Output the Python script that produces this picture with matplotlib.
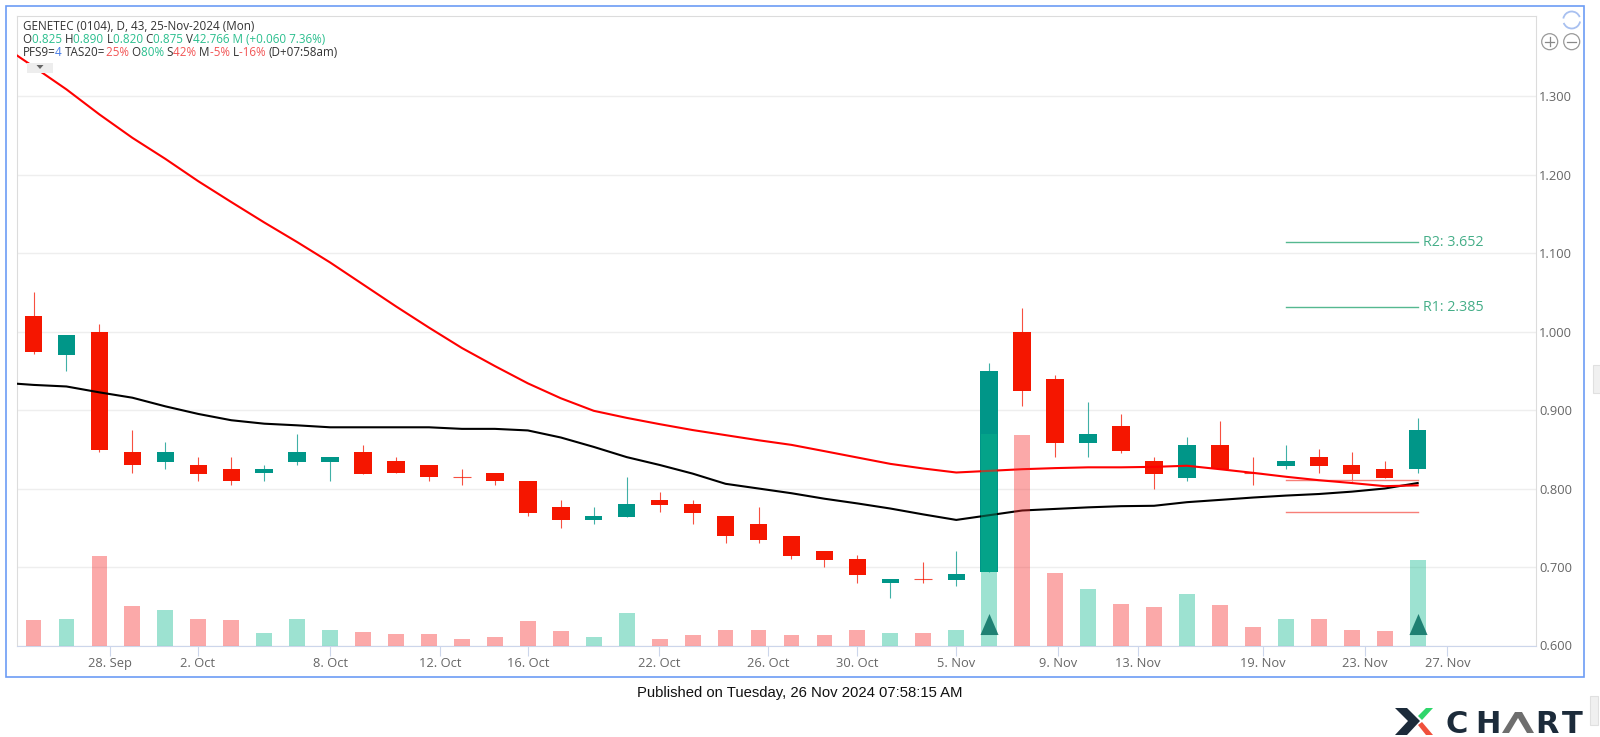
"""GENETEC daily candlestick chart with volume, moving averages and target levels."""

import matplotlib
matplotlib.use("Agg")
import matplotlib.pyplot as plt
from matplotlib.patches import Arc, Circle, Polygon, Rectangle

# ── data ──────────────────────────────────────────────────────────────────────
opens = [1.020, 0.970, 1.000, 0.846, 0.834, 0.830, 0.825, 0.820, 0.834, 0.834, 0.846,
         0.835, 0.830, 0.815, 0.820, 0.810, 0.776, 0.760, 0.764, 0.785, 0.780, 0.765,
         0.755, 0.740, 0.720, 0.710, 0.679, 0.685, 0.684, 0.694, 1.000, 0.940, 0.858,
         0.880, 0.835, 0.814, 0.855, 0.820, 0.829, 0.840, 0.830, 0.825, 0.825]
highs = [1.050, 0.995, 1.010, 0.874, 0.859, 0.840, 0.840, 0.830, 0.870, 0.840, 0.855,
         0.840, 0.830, 0.825, 0.820, 0.810, 0.785, 0.776, 0.815, 0.795, 0.785, 0.765,
         0.776, 0.740, 0.720, 0.715, 0.685, 0.706, 0.720, 0.960, 1.030, 0.945, 0.910,
         0.895, 0.840, 0.865, 0.886, 0.840, 0.855, 0.850, 0.846, 0.835, 0.890]
lows = [0.971, 0.950, 0.846, 0.820, 0.825, 0.810, 0.805, 0.810, 0.830, 0.810, 0.819,
        0.820, 0.810, 0.805, 0.805, 0.765, 0.750, 0.755, 0.764, 0.770, 0.755, 0.731,
        0.731, 0.710, 0.700, 0.680, 0.661, 0.680, 0.676, 0.694, 0.905, 0.840, 0.840,
        0.845, 0.800, 0.810, 0.825, 0.805, 0.825, 0.820, 0.810, 0.814, 0.820]
closes = [0.974, 0.995, 0.849, 0.830, 0.846, 0.819, 0.810, 0.825, 0.846, 0.840, 0.819,
          0.820, 0.815, 0.815, 0.809, 0.769, 0.760, 0.765, 0.780, 0.779, 0.769, 0.739,
          0.734, 0.714, 0.709, 0.690, 0.685, 0.685, 0.691, 0.950, 0.924, 0.858, 0.870,
          0.848, 0.819, 0.855, 0.825, 0.820, 0.835, 0.829, 0.819, 0.814, 0.875]
volumes = [12.8, 13.3, 44.4, 19.8, 17.6, 13.3, 12.6, 6.2, 13.3, 7.8, 6.8, 5.7, 5.7, 3.0,
           4.0, 12.1, 7.3, 4.0, 16.0, 3.0, 5.2, 7.8, 7.8, 5.2, 5.2, 7.8, 6.2, 6.2, 7.8,
           105.5, 105.2, 36.3, 28.3, 20.8, 19.1, 25.6, 20.3, 9.0, 13.3, 13.3, 7.8, 7.3,
           42.766]

# both averages start one session before the first candle, off the left edge
ma_red = [1.366, 1.3374, 1.3085, 1.2766, 1.2468, 1.220, 1.1915, 1.165, 1.139, 1.114, 1.088,
          1.060, 1.032, 1.005, 0.979, 0.956, 0.934, 0.915, 0.899, 0.890, 0.882, 0.8745,
          0.868, 0.8615, 0.8556, 0.8476, 0.8395, 0.8314, 0.8255, 0.8204, 0.8225, 0.8246,
          0.826, 0.827, 0.827, 0.8276, 0.829, 0.8246, 0.820, 0.815, 0.8106, 0.807, 0.803,
          0.804]
ma_black = [0.935, 0.932, 0.930, 0.9225, 0.9157, 0.9047, 0.895, 0.887, 0.8826, 0.8805,
            0.878, 0.878, 0.878, 0.878, 0.876, 0.876, 0.874, 0.865, 0.853, 0.840, 0.830,
            0.819, 0.806, 0.800, 0.794, 0.787, 0.781, 0.7745, 0.767, 0.760, 0.766, 0.772,
            0.774, 0.776, 0.7775, 0.778, 0.7826, 0.7855, 0.7885, 0.791, 0.793, 0.796,
            0.800, 0.807]

signal_days = [29, 42]
level_span = [38, 42]
target_levels = [1.1136, 1.0308]
target_labels = ["R2: 3.652", "R1: 2.385"]
stop_levels = [0.8106, 0.770]

y_ticks = [0.6, 0.7, 0.8, 0.9, 1.0, 1.1, 1.2, 1.3]
x_tick_pos = [2.32, 4.99, 9.0, 12.33, 15.0, 18.98, 22.3, 25.0, 28.0, 31.08, 33.5, 37.3,
              40.4, 42.9]
x_tick_labels = ["28. Sep", "2. Oct", "8. Oct", "12. Oct", "16. Oct", "22. Oct", "26. Oct",
                 "30. Oct", "5. Nov", "9. Nov", "13. Nov", "19. Nov", "23. Nov", "27. Nov"]

# ── colours ───────────────────────────────────────────────────────────────────
UP = "#009688"
DOWN = "#F51600"
VOL_UP = "#0CB88C"
VOL_DOWN = "#F52A2A"
TEXT_GREEN = "#2BBF8E"
TEXT_RED = "#F25555"
TEXT_DARK = "#333333"
LEVEL_GREEN = "#55B890"
LEVEL_RED = "#F77F78"
UI_FONT = "Open Sans"

W, H = 1600, 737
fig = plt.figure(figsize=(W / 100, H / 100), dpi=100, facecolor="white")
ax = fig.add_axes([16.5 / W, (H - 645.5) / H, (1536.3 - 16.5) / W, (645.5 - 16) / H])

days = list(range(len(opens)))
ax.set_xlim(-0.516, 45.6)
ax.set_ylim(0.6, 1.402)
ax.set_axisbelow(True)
ax.grid(True, axis="y", color="#EEEEEE", lw=1)

# ── candles ───────────────────────────────────────────────────────────────────
colors = [UP if c > o else DOWN for o, c in zip(opens, closes)]
ax.vlines(days, lows, highs, colors=colors, lw=0.8, alpha=0.75, zorder=2)
for d, o, c, col in zip(days, opens, closes, colors):
    if o == c:
        ax.hlines(o, d - 0.27, d + 0.27, colors=col, lw=0.8, alpha=0.75, zorder=3)
    else:
        ax.bar(d, abs(c - o), bottom=min(o, c), width=0.53, color=col, zorder=3)

# ── moving averages ───────────────────────────────────────────────────────────
ma_days = [-1] + days
ax.plot(ma_days, ma_black, color="black", lw=1.5, zorder=4)
ax.plot(ma_days, ma_red, color="#FF0000", lw=1.5, zorder=5)

# ── target / stop levels ──────────────────────────────────────────────────────
for level, label in zip(target_levels, target_labels):
    ax.plot(level_span, [level, level], color=LEVEL_GREEN, lw=1, zorder=4)
    ax.annotate(label, (level_span[1], level), xytext=(4, 0), textcoords="offset points",
                color="#45AE88", fontsize=10.3, family=UI_FONT, va="center")
for level in stop_levels:
    ax.plot(level_span, [level, level], color=LEVEL_RED, lw=1, zorder=4)

# ── volume on top of the candles ──────────────────────────────────────────────
ax_vol = ax.twinx()
ax_vol.set_ylim(0, 314)
ax_vol.set_yticks([])
ax_vol.patch.set_visible(False)
for spine in ax_vol.spines.values():
    spine.set_visible(False)
vol_colors = [VOL_UP if c > o else VOL_DOWN for o, c in zip(opens, closes)]
ax_vol.bar(days, volumes, width=0.48, color=vol_colors, alpha=0.4)

tri = [(-0.43, -0.5), (0.43, -0.5), (0, 0.5)]
ax_vol.scatter(signal_days, [0.628] * len(signal_days), marker=tri, s=230, color="#00695C",
               alpha=0.8, linewidths=0, transform=ax.transData, zorder=6)

# ── axes (after twinx, which moves the main ticks back to the left) ───────────
ax.yaxis.tick_right()
ax.set_yticks(y_ticks, [f"{v:.3f}" for v in y_ticks])
ax.set_xticks(x_tick_pos, x_tick_labels)
ax.tick_params(axis="y", length=0, pad=2, labelsize=9.3, labelcolor="#666666")
ax.tick_params(axis="x", length=7, width=0.8, color="#CCD6EB", pad=1.4, labelsize=9.3,
               labelcolor="#666666")
for lab in ax.get_xticklabels() + ax.get_yticklabels():
    lab.set_family(UI_FONT)
for side in ("top", "left", "right"):
    ax.spines[side].set_color("#DCDCDC")
ax.spines["bottom"].set_color("#CCD6EB")

# ── page furniture, in pixel coordinates ──────────────────────────────────────
ov = fig.add_axes([0, 0, 1, 1], facecolor="none", zorder=10)
ov.set_xlim(0, W)
ov.set_ylim(H, 0)
ov.axis("off")

ov.add_patch(Rectangle((5.7, 5.5), 1578.5, 671, fill=False, ec="#6C9CF5", lw=1.2))
ov.add_patch(Rectangle((27, 63), 26, 9.5, fc="#EDEDED", ec="none"))
ov.add_patch(Polygon([(36.5, 65), (43.5, 65), (40, 69)], fc="#666666", ec="none"))
ov.add_patch(Rectangle((1593, 365), 10, 28, fc="#F0F0F0", ec="#E0E0E0", lw=0.8))
ov.add_patch(Rectangle((1589.5, 696), 8.5, 29, fc="#F0F0F0", ec="#E0E0E0", lw=0.8))

# zoom and refresh icons
for cx in (1549.7, 1571.7):
    ov.add_patch(Circle((cx, 41.7), 8, fill=False, ec="#999999", lw=0.9))
    ov.plot([cx - 4.5, cx + 4.5], [41.7, 41.7], color="#888888", lw=0.9)
ov.plot([1549.7, 1549.7], [37.2, 46.2], color="#888888", lw=0.9)
ov.add_patch(Arc((1571.7, 20), 17, 17, theta1=190, theta2=340, ec="#A8C0F0", lw=1.3))
ov.add_patch(Arc((1571.7, 20), 17, 17, theta1=10, theta2=160, ec="#A8C0F0", lw=1.3))

renderer = fig.canvas.get_renderer()


def coloured_line(y, parts):
    """Write (text, colour) pieces one after the other on a shared baseline."""
    x = 22.7
    for text, col in parts:
        t = ov.text(x, y, text, color=col, fontsize=8.4, family=UI_FONT, va="baseline")
        x += t.get_window_extent(renderer).width


coloured_line(29.5, [("GENETEC (0104), D, 43, 25-Nov-2024 (Mon)", TEXT_DARK)])
coloured_line(42.5, [("O", TEXT_DARK), ("0.825 ", TEXT_GREEN), ("H", TEXT_DARK),
                     ("0.890 ", TEXT_GREEN), ("L", TEXT_DARK), ("0.820 ", TEXT_GREEN),
                     ("C", TEXT_DARK), ("0.875 ", TEXT_GREEN), ("V", TEXT_DARK),
                     ("42.766 M (+0.060 7.36%)", TEXT_GREEN)])
coloured_line(55.5, [("PFS9=", TEXT_DARK), ("4 ", "#4A7FE8"), ("TAS20=", TEXT_DARK),
                     ("25% ", TEXT_RED), ("O", TEXT_DARK), ("80% ", TEXT_GREEN),
                     ("S", TEXT_DARK), ("42% ", TEXT_RED), ("M", TEXT_DARK),
                     ("-5% ", TEXT_RED), ("L", TEXT_DARK), ("-16% ", TEXT_RED),
                     ("(D+07:58am)", TEXT_DARK)])

ov.text(800, 693, "Published on Tuesday, 26 Nov 2024 07:58:15 AM", ha="center", va="center",
        fontsize=10.75, family="Liberation Sans", color="#111111")

# XCHART logo
LOGO = "#1C2B3A"
ov.add_patch(Polygon([(1395, 708), (1407, 708), (1420, 721), (1407, 735), (1395, 735),
                      (1408, 721)], fc=LOGO, ec="none"))
ov.add_patch(Polygon([(1418, 716), (1426, 708), (1433, 708), (1422, 720)], fc="#2FD66B",
                     ec="none"))
ov.add_patch(Polygon([(1418, 725), (1422, 722), (1433, 735), (1426, 735)], fc="#F0503C",
                     ec="none"))
for letter, x in zip("CHRT", (1457, 1488, 1547, 1572)):
    ov.text(x, 733, letter, color=LOGO, fontsize=22, fontweight="bold", ha="center",
            va="baseline", family="DejaVu Sans")
ov.add_patch(Polygon([(1502, 733), (1515, 712), (1522, 712), (1534, 733), (1527, 733),
                      (1518, 718), (1509, 733)], fc="#6E6E6E", ec="none"))

fig.savefig("out.png", dpi=100)
